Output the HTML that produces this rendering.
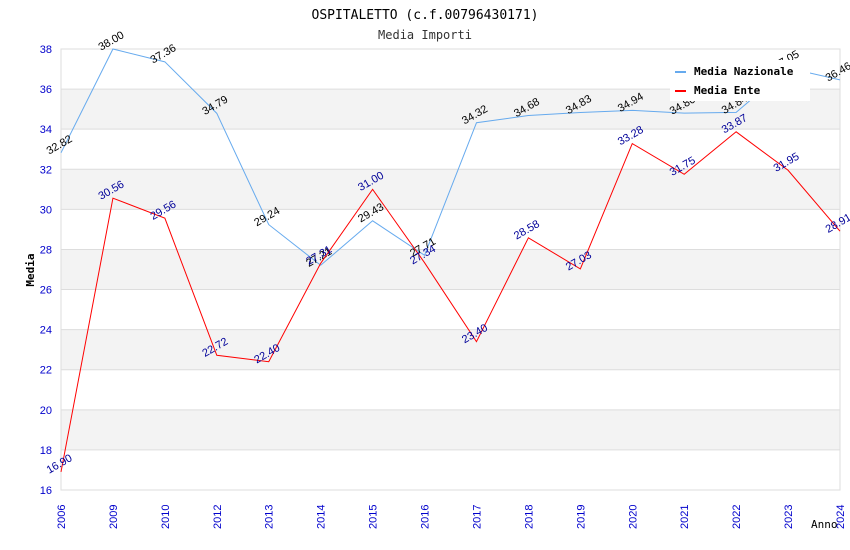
<!DOCTYPE html>
<html><head><meta charset="utf-8"><style>
body{margin:0;background:#fff;}
svg{display:block;font-family:"DejaVu Sans Mono","Liberation Mono",monospace;}
.sans{font-family:"Liberation Sans",Arial,sans-serif;}
</style></head><body>
<svg id="chart" width="850" height="550" xmlns="http://www.w3.org/2000/svg">
<text x="425" y="19" text-anchor="middle" font-size="13" fill="#000">OSPITALETTO (c.f.00796430171)</text>
<text x="425" y="39" text-anchor="middle" font-size="12" fill="#333">Media Importi</text>
<g id="grid"></g><g id="axes"></g><g id="series"></g>
<text transform="translate(34,270) rotate(-90)" text-anchor="middle" font-size="11" font-weight="bold">Media</text>
<text x="811" y="528" font-size="11">Anno</text>
<g>
<rect x="670" y="60" width="140" height="41" fill="#fff"/>
<line x1="675" y1="72" x2="686" y2="72" stroke="#66aaee" stroke-width="2"/>
<text x="694" y="75" font-size="11" font-weight="bold">Media Nazionale</text>
<line x1="675" y1="91" x2="686" y2="91" stroke="#ff0000" stroke-width="2"/>
<text x="694" y="94" font-size="11" font-weight="bold">Media Ente</text>
</g>
</svg>
<script>
const categories=["2006","2009","2010","2012","2013","2014","2015","2016","2017","2018","2019","2020","2021","2022","2023","2024"];
const nazionale=[32.82,38.00,37.36,34.79,29.24,27.21,29.43,27.71,34.32,34.68,34.83,34.94,34.80,34.84,37.05,36.46];
const ente=[16.90,30.56,29.56,22.72,22.40,27.31,31.00,27.34,23.40,28.58,27.03,33.28,31.75,33.87,31.95,28.91];
const yTicks=[16,18,20,22,24,26,28,30,32,34,36,38];
const NS="http://www.w3.org/2000/svg";
const L=61,R=840,T=49,B=490,ymin=16,ymax=38;
const x=i=>L+i*(R-L)/(categories.length-1);
const y=v=>B-(v-ymin)/(ymax-ymin)*(B-T);
function mk(tag,attrs,parent,text){const e=document.createElementNS(NS,tag);for(const k in attrs)e.setAttribute(k,attrs[k]);if(text!==undefined)e.textContent=text;parent.appendChild(e);return e;}
const grid=document.getElementById('grid'),axes=document.getElementById('axes'),series=document.getElementById('series');
for(let i=0;i<yTicks.length-1;i++){
  if(i%2===1){const r=mk('rect',{x:L,y:y(yTicks[i+1]),width:R-L,height:y(yTicks[i])-y(yTicks[i+1]),fill:'#f3f3f3'},grid);
  
  }
}
yTicks.forEach(v=>{
  const l=mk('line',{x1:L,x2:R,y1:y(v),y2:y(v),stroke:'#ddd'},grid);
  
  
  const t=mk('text',{x:L-9,y:y(v)+4,'text-anchor':'end','font-size':11,fill:'#0000cc',class:'sans'},axes,String(v));
  
  
});
mk('rect',{x:L,y:T,width:R-L,height:B-T,fill:'none',stroke:'#ddd'},axes);
categories.forEach((c,i)=>{
  const t=mk('text',{transform:`translate(${x(i)+4},${B+39}) rotate(-90)`,'font-size':11,fill:'#0000cc',class:'sans'},axes,c);
  
  
});
function draw(vals,color,labColor,name){
  const p=mk('polyline',{points:vals.map((v,i)=>x(i)+','+y(v)).join(' '),fill:'none',stroke:color,'stroke-width':1},series);
  
  
  vals.forEach((v,i)=>{
    const t=mk('text',{transform:`translate(${x(i)},${y(v)-5}) rotate(-30)`,'text-anchor':'middle','font-size':11,fill:labColor,class:'sans'},series,v.toFixed(2));
    
    
  });
}
draw(nazionale,'#66aaee','#000','media-nazionale');
draw(ente,'#ff0000','#000099','media-ente');
</script>
</body></html>
